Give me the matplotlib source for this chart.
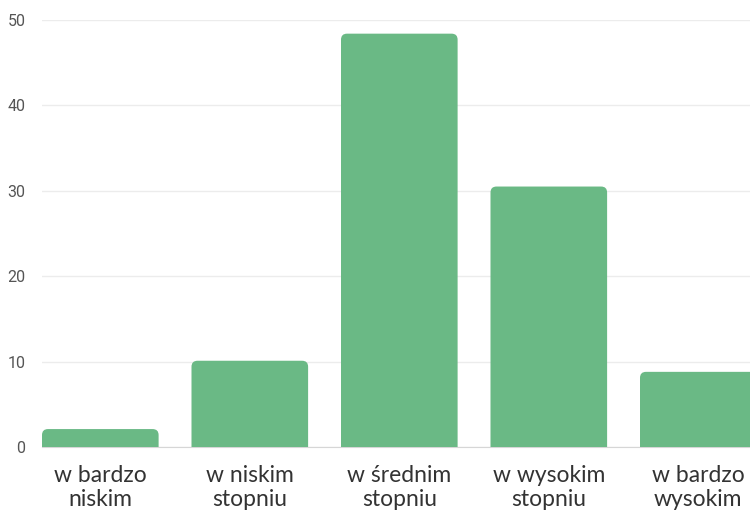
import matplotlib.pyplot as plt
from matplotlib.patches import FancyBboxPatch

# ===================== data =====================
categories = ['w bardzo\nniskim', 'w niskim\nstopniu', 'w średnim\nstopniu',
              'w wysokim\nstopniu', 'w bardzo\nwysokim']
values = [2.1, 10.1, 48.4, 30.5, 8.8]
yticks = [0, 10, 20, 30, 40, 50]

BAR_COLOR = '#6ab985'
BAR_WIDTH = 0.78

fig = plt.figure(figsize=(7.5, 5.11), dpi=100)
ax = fig.add_axes([42 / 750, 64 / 511, 1 - 42 / 750, (447 - 20) / 511])

x = list(range(len(categories)))
bars = ax.bar(x, values, width=BAR_WIDTH, color='none')

ax.set_ylim(0, 50)
ax.set_xlim(-BAR_WIDTH / 2, (750 - 42) / 149.5 - BAR_WIDTH / 2)

# rounded tops: data units per pixel on each axis
px_x = (ax.get_xlim()[1] - ax.get_xlim()[0]) / (750 - 42)
px_y = 50 / (447 - 20)
radius = 6 * px_x
for b in bars:
    patch = FancyBboxPatch((b.get_x(), -2), b.get_width(), b.get_height() + 2,
                           boxstyle=f'round,pad=0,rounding_size={radius}',
                           mutation_aspect=px_y / px_x,
                           facecolor=BAR_COLOR, edgecolor='none', zorder=3)
    ax.add_patch(patch)

ax.set_yticks(yticks)
ax.set_yticklabels([str(t) for t in yticks], fontsize=11.5, color='#555555',
                   family='Roboto')
ax.yaxis.grid(True, color='#ececec', linewidth=1)
ax.set_axisbelow(True)
ax.tick_params(axis='y', length=0, pad=12)

ax.set_xticks(x)
ax.set_xticklabels(categories, fontsize=16.5, color='#333333', family='Lato',
                   linespacing=1.2)
ax.tick_params(axis='x', length=0, pad=13)

for side in ['top', 'right', 'left']:
    ax.spines[side].set_visible(False)
ax.spines['bottom'].set_color('#d6d6d6')

fig.savefig('out.png', dpi=100)
